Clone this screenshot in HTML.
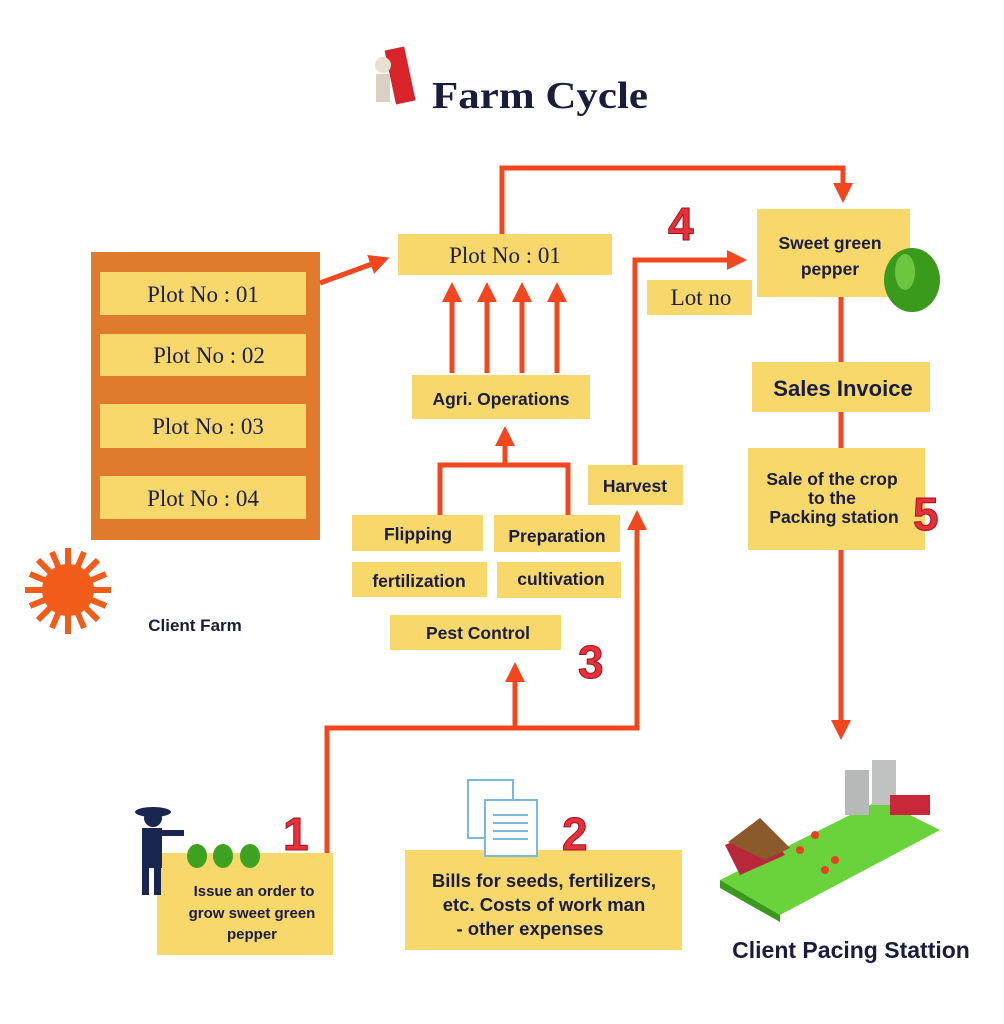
<!DOCTYPE html>
<html><head><meta charset="utf-8"><style>
html,body{margin:0;padding:0;background:#fff}
svg{display:block}
.s{font-family:"Liberation Sans",sans-serif;fill:#1a1c3c}
.r{font-family:"Liberation Serif",serif;fill:#1a1c3c}
.n{font-family:"Liberation Sans",sans-serif;font-weight:bold;fill:#e8303a;stroke:#a01020;stroke-width:1}
</style></head><body>
<svg width="1004" height="1024" viewBox="0 0 1004 1024" xmlns="http://www.w3.org/2000/svg">
<defs><marker id="a" markerWidth="4" markerHeight="4" refX="2" refY="2" orient="auto" markerUnits="strokeWidth"><path d="M0,0 L4,2 L0,4z" fill="#f2461e"/></marker></defs>
<!-- title -->
<rect x="390" y="48" width="20" height="55" fill="#d8232a" transform="rotate(-12 400 75)"/>
<circle cx="383" cy="65" r="8" fill="#e8e0d0"/>
<rect x="376" y="74" width="14" height="28" fill="#d9d2c2"/>
<text x="432" y="108" class="r" font-size="38" font-weight="bold" fill="#1c2a5a" textLength="216" lengthAdjust="spacingAndGlyphs">Farm Cycle</text>
<!-- orange panel -->
<rect x="91" y="252" width="229" height="288" fill="#e07b2e"/>
<g fill="#f9d86b">
<rect x="100" y="272" width="206" height="43"/><rect x="100" y="334" width="206" height="42"/>
<rect x="100" y="404" width="206" height="44"/><rect x="100" y="476" width="206" height="43"/>
<rect x="398" y="234" width="214" height="41"/><rect x="412" y="375" width="178" height="44"/>
<rect x="352" y="515" width="131" height="36"/><rect x="494" y="515" width="126" height="37"/>
<rect x="352" y="562" width="135" height="35"/><rect x="497" y="562" width="124" height="36"/>
<rect x="390" y="615" width="171" height="35"/><rect x="588" y="465" width="95" height="40"/>
<rect x="647" y="280" width="105" height="35"/><rect x="757" y="209" width="153" height="88"/>
<rect x="752" y="362" width="178" height="50"/><rect x="748" y="448" width="177" height="102"/>
<rect x="157" y="853" width="176" height="102"/><rect x="405" y="850" width="277" height="100"/>
</g>
<g class="r" font-size="23" text-anchor="middle">
<text x="203" y="302">Plot No : 01</text><text x="209" y="363">Plot No : 02</text>
<text x="208" y="434">Plot No : 03</text><text x="203" y="506">Plot No : 04</text>
<text x="505" y="263">Plot No : 01</text><text x="701" y="305">Lot no</text>
</g>
<g class="s" font-size="17.5" text-anchor="middle" font-weight="bold">
<text x="501" y="405">Agri. Operations</text>
<text x="418" y="540">Flipping</text><text x="557" y="542">Preparation</text>
<text x="419" y="587">fertilization</text><text x="561" y="585">cultivation</text>
<text x="478" y="639">Pest Control</text><text x="635" y="492">Harvest</text>
<text x="830" y="249">Sweet green</text><text x="830" y="275">pepper</text>
<text x="843" y="396" font-size="22">Sales Invoice</text>
<text x="832" y="485">Sale of the crop</text><text x="832" y="504">to the</text><text x="834" y="523">Packing station</text>
<text x="254" y="896" font-size="15">Issue an order to</text><text x="252" y="918" font-size="15">grow sweet green</text><text x="252" y="939" font-size="15">pepper</text>
<text x="544" y="887" font-size="18.5">Bills for seeds, fertilizers,</text><text x="544" y="911" font-size="18.5">etc.  Costs of work man</text><text x="530" y="935" font-size="18.5">- other expenses</text>
<text x="195" y="631" font-size="17">Client  Farm</text>
<text x="851" y="958" font-size="23">Client Pacing Stattion</text>
</g>
<!-- connectors -->
<g stroke="#f2461e" stroke-width="5" fill="none">
<path d="M320,283 L380,261" marker-end="url(#a)"/>
<path d="M502,234 V168 H843 V193" marker-end="url(#a)"/>
<path d="M452,373 V292" marker-end="url(#a)"/>
<path d="M487,373 V292" marker-end="url(#a)"/>
<path d="M522,373 V292" marker-end="url(#a)"/>
<path d="M557,373 V292" marker-end="url(#a)"/>
<path d="M440,515 V465 H568 V515" />
<path d="M505,465 V436" marker-end="url(#a)"/>
<path d="M635,465 V260 H737" marker-end="url(#a)"/>
<path d="M327,853 V728 H637 V520" marker-end="url(#a)"/>
<path d="M515,728 V672" marker-end="url(#a)"/>
<path d="M841,297 V362 M841,412 V448" />
<path d="M841,550 V730" marker-end="url(#a)"/>
</g>
<!-- numbers -->
<g class="n" font-size="46">
<text x="668" y="240">4</text><text x="578" y="678">3</text><text x="913" y="530">5</text>
<text x="283" y="850">1</text><text x="562" y="850">2</text>
</g>
<!-- sun -->
<g fill="#f25c1a"><circle cx="68" cy="590" r="26"/>
<g stroke="#f25c1a" stroke-width="6">
<path d="M68,548 V634 M25,590 H111 M38,560 L98,620 M98,560 L38,620 M52,552 L84,628 M84,552 L52,628 M30,574 L106,606 M30,606 L106,574"/></g></g>
<!-- pepper -->
<ellipse cx="912" cy="280" rx="28" ry="32" fill="#3a9a1c"/><ellipse cx="905" cy="272" rx="10" ry="18" fill="#6cc640"/>
<!-- farmer -->
<g fill="#1a2550"><ellipse cx="153" cy="812" rx="18" ry="5"/><circle cx="153" cy="818" r="9"/>
<rect x="142" y="828" width="20" height="40"/><rect x="142" y="865" width="7" height="30"/><rect x="154" y="865" width="7" height="30"/>
<rect x="160" y="830" width="24" height="6"/></g>
<g fill="#3da21f"><ellipse cx="197" cy="856" rx="10" ry="12"/><ellipse cx="223" cy="856" rx="10" ry="12"/><ellipse cx="250" cy="856" rx="10" ry="12"/></g>
<!-- docs -->
<g fill="#fff" stroke="#7bb8dc" stroke-width="2"><rect x="468" y="780" width="45" height="58"/><rect x="485" y="800" width="52" height="56"/></g>
<g stroke="#7bb8dc" stroke-width="2"><path d="M493,815 H528 M493,823 H528 M493,831 H528 M493,839 H528"/></g>
<!-- farm -->
<path d="M720,880 L880,800 L940,830 L780,915z" fill="#6ad23a"/>
<path d="M720,880 L780,915 L780,922 L720,888z" fill="#3a9a1c"/>
<rect x="845" y="770" width="24" height="45" fill="#b7b9b9"/><rect x="872" y="760" width="24" height="45" fill="#c0c2c2"/>
<rect x="890" y="795" width="40" height="20" fill="#c8283a"/>
<path d="M725,845 L765,828 L785,855 L740,875z" fill="#b8283a"/><path d="M728,842 L760,818 L790,848 L765,860z" fill="#8b5a2b"/>
<g fill="#e84020"><circle cx="800" cy="850" r="4"/><circle cx="815" cy="835" r="4"/><circle cx="835" cy="860" r="4"/><circle cx="825" cy="870" r="4"/></g>
</svg>
</body></html>
